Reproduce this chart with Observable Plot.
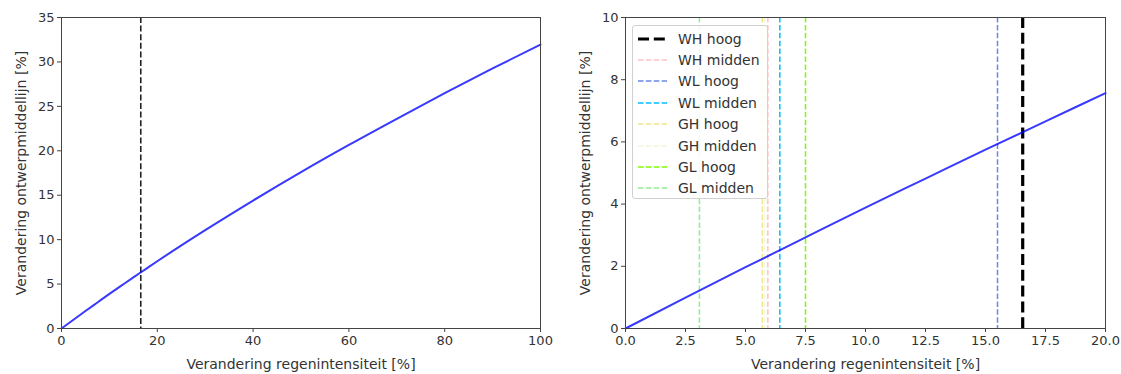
<!DOCTYPE html>
<html><head><meta charset="utf-8">
<script src="https://cdn.jsdelivr.net/npm/d3@7"></script>
<script src="https://cdn.jsdelivr.net/npm/@observablehq/plot@0.6"></script>
<style>
body{margin:0;background:#fff;font-family:"DejaVu Sans",sans-serif;}
#wrap{position:relative;width:1121px;height:374px;display:flex;}
#legend{position:absolute;left:632px;top:25px;width:136px;height:174px;box-sizing:border-box;border:1px solid #d0d0d0;border-radius:3px;background:rgba(255,255,255,0.85);padding:2px 0 0 5px;}
.row{display:flex;align-items:center;height:21.4px;font-size:14px;color:#333;}
.row svg{margin-right:11px;}
</style></head>
<body><div id="wrap"><div id="legend"></div></div>
<script>
// Change in rainfall intensity [%] vs change in design mean line [%]
const intensity = [0, 2.5, 5, 7.5, 10, 12.5, 15, 17.5, 20, 30, 40, 50, 60, 70, 80, 90, 100];
const designChange = [0, 0.99, 1.97, 2.93, 3.89, 4.82, 5.75, 6.66, 7.57, 11.07, 14.4, 17.6, 20.66, 23.6, 26.48, 29.27, 31.95];

// Scenario markers (right panel)
const scenarioNames = ["WH hoog", "WH midden", "WL hoog", "WL midden", "GH hoog", "GH midden", "GL hoog", "GL midden"];
const scenarioValues = [16.55, 5.93, 15.5, 6.43, 5.7, 5.8, 7.5, 3.08];
const scenarioColors = ["#000000", "#ffc0cb", "#4169e1", "#00bfff", "#f0e68c", "#f5f5dc", "#7cfc00", "#90ee90"];
const scenarioWidths = [3.2, 1.5, 1.5, 1.5, 1.5, 1.5, 1.5, 1.5];
const scenarioOpacity = [1, 1, 0.8, 1, 1, 1, 1, 1];

// Left panel marker
const leftMarker = [16.55];

const curve = intensity.map((x, i) => ({x, y: designChange[i]}));
const scenarios = scenarioNames.map((n, i) => ({name: n, x: scenarioValues[i], color: scenarioColors[i], w: scenarioWidths[i], o: scenarioOpacity[i]}));

const xLabel = "Verandering regenintensiteit [%]";
const yLabel = "Verandering ontwerpmiddellijn [%]";
const common = {
  height: 374,
  marginTop: 17,
  marginBottom: 46,
  style: {fontFamily: "DejaVu Sans, sans-serif", fontSize: "13px", color: "#333", background: "#fff", overflow: "visible"}
};
function axes(xTicks, yTicks, xFmt) {
  return [
    Plot.axisX({ticks: xTicks, tickFormat: xFmt, tickSize: 4, tickPadding: 3, stroke: "#444", label: null}),
    Plot.axisX({ticks: [], label: xLabel, labelAnchor: "center", labelArrow: "none", labelOffset: 40, fontSize: 14}),
    Plot.axisY({ticks: yTicks, tickSize: 4, tickPadding: 3, stroke: "#444", label: null}),
    Plot.axisY({ticks: [], label: yLabel, labelAnchor: "center", labelArrow: "none", labelOffset: 45, fontSize: 14})
  ];
}

const left = Plot.plot({
  ...common,
  width: 560,
  marginLeft: 61,
  marginRight: 20,
  x: {domain: [0, 100]},
  y: {domain: [0, 35]},
  marks: [
    Plot.ruleX(leftMarker, {x: d => d, stroke: "#222", strokeWidth: 1.6, strokeDasharray: "6,2.6"}),
    Plot.line(curve, {x: "x", y: "y", curve: "monotone-x", stroke: "blue", strokeOpacity: 0.78, strokeWidth: 2}),
    ...axes([0, 20, 40, 60, 80, 100], [0, 5, 10, 15, 20, 25, 30, 35], d3.format("d")),
    Plot.frame({stroke: "#444", strokeWidth: 1})
  ]
});

const thin = scenarios.filter(d => d.w <= 2).reverse();
const thick = scenarios.filter(d => d.w > 2);
const right = Plot.plot({
  ...common,
  width: 561,
  marginLeft: 65,
  marginRight: 16,
  x: {domain: [0, 20]},
  y: {domain: [0, 10]},
  marks: [
    Plot.ruleX(thin, {x: "x", stroke: "color", strokeWidth: "w", strokeOpacity: "o", strokeDasharray: "5.5,2.4"}),
    Plot.ruleX(thick, {x: "x", stroke: "color", strokeWidth: "w", strokeDasharray: "11,4.8"}),
    Plot.line(curve.filter(d => d.x <= 20), {x: "x", y: "y", curve: "monotone-x", stroke: "blue", strokeOpacity: 0.78, strokeWidth: 2}),
    ...axes(d3.range(0, 20.01, 2.5), [0, 2, 4, 6, 8, 10], d3.format(".1f")),
    Plot.frame({stroke: "#444", strokeWidth: 1})
  ]
});

const wrap = document.getElementById("wrap");
wrap.insertBefore(right, wrap.firstChild);
wrap.insertBefore(left, wrap.firstChild);

const legend = document.getElementById("legend");
scenarios.forEach(s => {
  const row = document.createElement("div");
  row.className = "row";
  const dash = s.w > 2 ? "11,4.8" : "5.5,2.4";
  row.innerHTML = `<svg width="29" height="6"><line x1="0" y1="3" x2="29" y2="3" stroke="${s.color}" stroke-opacity="${s.o}" stroke-width="${s.w}" stroke-dasharray="${dash}"/></svg><span>${s.name}</span>`;
  legend.appendChild(row);
});
</script></body></html>
